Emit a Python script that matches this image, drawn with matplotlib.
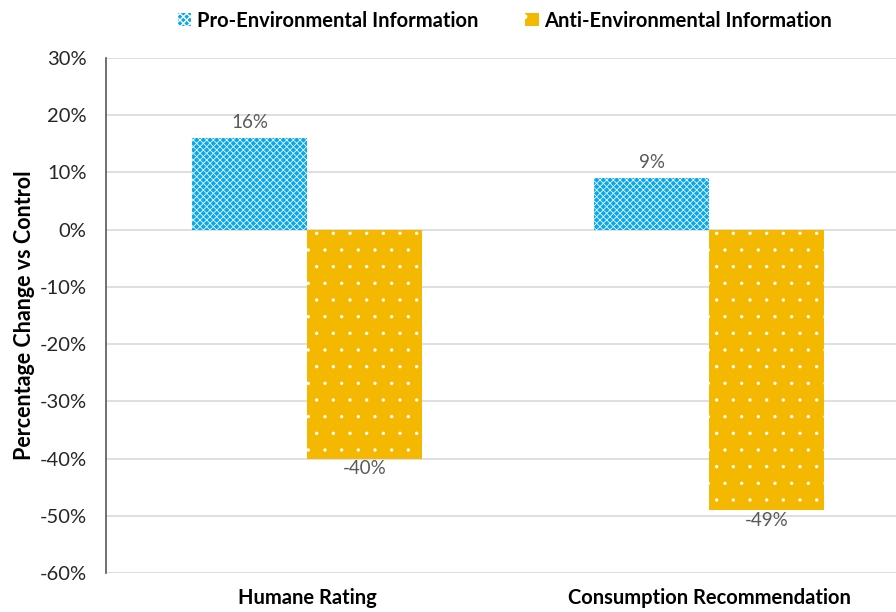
import matplotlib
matplotlib.use("Agg")
import matplotlib.pyplot as plt
import numpy as np

categories = ["Humane Rating", "Consumption Recommendation"]
series_names = ["Pro-Environmental Information", "Anti-Environmental Information"]
pro_values = [16, 9]
anti_values = [-40, -49]
y_ticks = [30, 20, 10, 0, -10, -20, -30, -40, -50, -60]

plt.rcParams['font.family'] = ['Lato', 'DejaVu Sans']

fig = plt.figure(figsize=(8.96, 6.12), dpi=100)
ax = fig.add_axes([106 / 896, 1 - 573 / 612, 804 / 896, (573 - 58) / 612])

x = np.arange(len(categories))
w = 0.286
blue = "#08a8ec"
gold = "#f5b800"

with plt.rc_context({'hatch.linewidth': 0.55}):
    bp = ax.bar(x - w / 2, pro_values, w, color=blue, edgecolor="white", linewidth=0,
                hatch="xxxxx", label=series_names[0], zorder=3)
with plt.rc_context({'hatch.linewidth': 0.0}):
    ba = ax.bar(x + w / 2, anti_values, w, color=gold, edgecolor="white", linewidth=0,
                hatch=".", label=series_names[1], zorder=3)

for rect, v in zip(bp, pro_values):
    ax.text(rect.get_x() + rect.get_width() / 2, v + 1.2, f"{v}%", ha="center", va="bottom",
            fontsize=13.5, color="#595959")
for rect, v in zip(ba, anti_values):
    ax.text(rect.get_x() + rect.get_width() / 2, v - 0.3, f"{v}%", ha="center", va="top",
            fontsize=13.5, color="#595959")

ax.set_xlim(-0.5, 1.5)
ax.set_ylim(-60, 30)
ax.set_yticks(y_ticks)
ax.set_yticklabels([f"{t}%" for t in y_ticks], fontsize=14.5, color="#262626")
ax.set_xticks(x)
ax.set_xticklabels(categories, fontsize=14.5, fontweight="bold", color="#000000")
ax.tick_params(axis="both", length=0)
ax.tick_params(axis="y", pad=14)
ax.tick_params(axis="x", pad=11)
ax.yaxis.grid(True, color="#d9d9d9", linewidth=1.2, zorder=0)
ax.set_axisbelow(True)
for s in ["top", "right", "bottom"]:
    ax.spines[s].set_visible(False)
ax.spines["left"].set_color("#595959")
ax.spines["left"].set_linewidth(1.2)

ax.set_ylabel("Percentage Change vs Control", fontsize=15.5, fontweight="bold", labelpad=3)

leg = fig.legend(handles=[bp, ba], labels=series_names, loc="upper center",
                 bbox_to_anchor=(505 / 896, 1.012), ncol=2, frameon=False,
                 prop={"weight": "bold", "size": 14.5}, handlelength=0.65, handleheight=0.65,
                 handletextpad=0.3, columnspacing=2.35)

fig.savefig("out.png", dpi=100)
